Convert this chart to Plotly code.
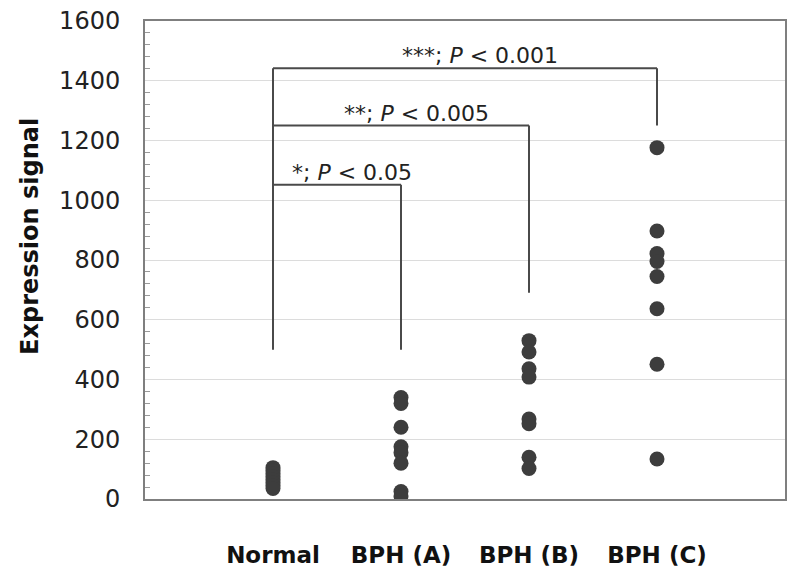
import plotly.graph_objects as go

categories = ["Normal", "BPH (A)", "BPH (B)", "BPH (C)"]
normal = [105, 95, 85, 75, 65, 55, 45, 35]
bph_a = [340, 320, 240, 175, 155, 120, 25, 10]
bph_b = [530, 492, 436, 408, 268, 252, 140, 102]
bph_c = [1176, 897, 822, 795, 745, 637, 451, 134]

# significance brackets: label, right group, bracket height, right drop end
labels = ["*; <i>P</i> < 0.05", "**; <i>P</i> < 0.005", "***; <i>P</i> < 0.001"]
right_idx = [2, 3, 4]
heights = [1052, 1250, 1442]
right_bottoms = [500, 690, 1250]
left_bottom = 500

font = "DejaVu Sans"
dot = "#3d3d3d"
line_col = "#4a4a4a"

fig = go.Figure()
for i, vals in enumerate([normal, bph_a, bph_b, bph_c]):
    fig.add_trace(go.Scatter(
        x=[i + 1] * len(vals), y=vals, mode="markers",
        marker=dict(size=15, color=dot), showlegend=False))

# brackets
fig.add_shape(type="line", x0=1, x1=1, y0=left_bottom, y1=max(heights),
              line=dict(color=line_col, width=2))
for lab, xr, h, rb in zip(labels, right_idx, heights, right_bottoms):
    fig.add_shape(type="line", x0=1, x1=xr, y0=h, y1=h,
                  line=dict(color=line_col, width=2))
    fig.add_shape(type="line", x0=xr, x1=xr, y0=rb, y1=h,
                  line=dict(color=line_col, width=2))
    fig.add_annotation(x=(1 + xr) / 2 + 0.12, y=h, text=lab, showarrow=False,
                       yanchor="bottom", yshift=-2,
                       font=dict(family=font, size=22, color="#222"))

fig.add_annotation(xref="paper", yref="paper", x=-0.18, y=0.55, xanchor="center",
                   yanchor="middle", text="<b>Expression signal</b>", textangle=-90,
                   showarrow=False, font=dict(family=font, size=24, color="#111"))

fig.update_xaxes(range=[0, 5], tickvals=[1, 2, 3, 4], ticktext=[f"<b>{c}</b>" for c in categories],
                 showgrid=False, zeroline=False, showline=True, linecolor="#7f7f7f",
                 linewidth=2, mirror=True, ticks="", ticklabelstandoff=34,
                 tickfont=dict(family=font, size=23, color="#111"))
fig.update_yaxes(range=[0, 1600], dtick=200, showgrid=True, gridcolor="#dcdcdc",
                 gridwidth=1, zeroline=False, showline=True, linecolor="#7f7f7f",
                 linewidth=2, mirror=True, ticks="", ticklabelstandoff=18,
                 ticklabeloverflow="allow", automargin=False,
                 tickfont=dict(family=font, size=24, color="#222"),
                 minor=dict(dtick=40, ticks="inside", ticklen=5, tickcolor="#9a9a9a",
                            showgrid=False))

fig.update_layout(width=800, height=576, margin=dict(l=137, r=23, t=13, b=85),
                  plot_bgcolor="white", paper_bgcolor="white",
                  font=dict(family=font))

fig.write_html("out.html")
